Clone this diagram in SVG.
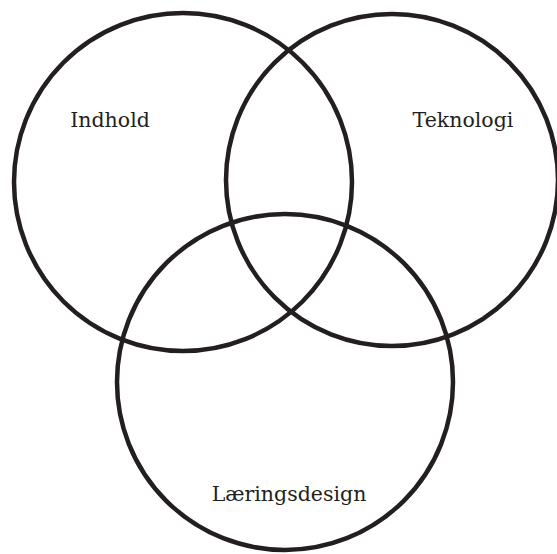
<svg xmlns="http://www.w3.org/2000/svg" width="557" height="554" viewBox="0 0 557 554">
<style>
.c{fill:none;stroke:#231f20;stroke-width:4.5}
.t{font-family:"DejaVu Serif","Liberation Serif",serif;font-size:20.5px;fill:#231f20}
</style>
<rect width="557" height="554" fill="#fff"/>
<g id="indhold">
<circle class="c" cx="183" cy="182" r="169"/>
<text class="t" x="110" y="127" text-anchor="middle">Indhold</text>
</g>
<g id="teknologi">
<circle class="c" cx="392" cy="180" r="166"/>
<text class="t" x="463" y="127" text-anchor="middle">Teknologi</text>
</g>
<g id="laeringsdesign">
<circle class="c" cx="285" cy="382" r="168"/>
<text class="t" x="289" y="501" text-anchor="middle">Læringsdesign</text>
</g>
<g id="connectors"/>
</svg>
